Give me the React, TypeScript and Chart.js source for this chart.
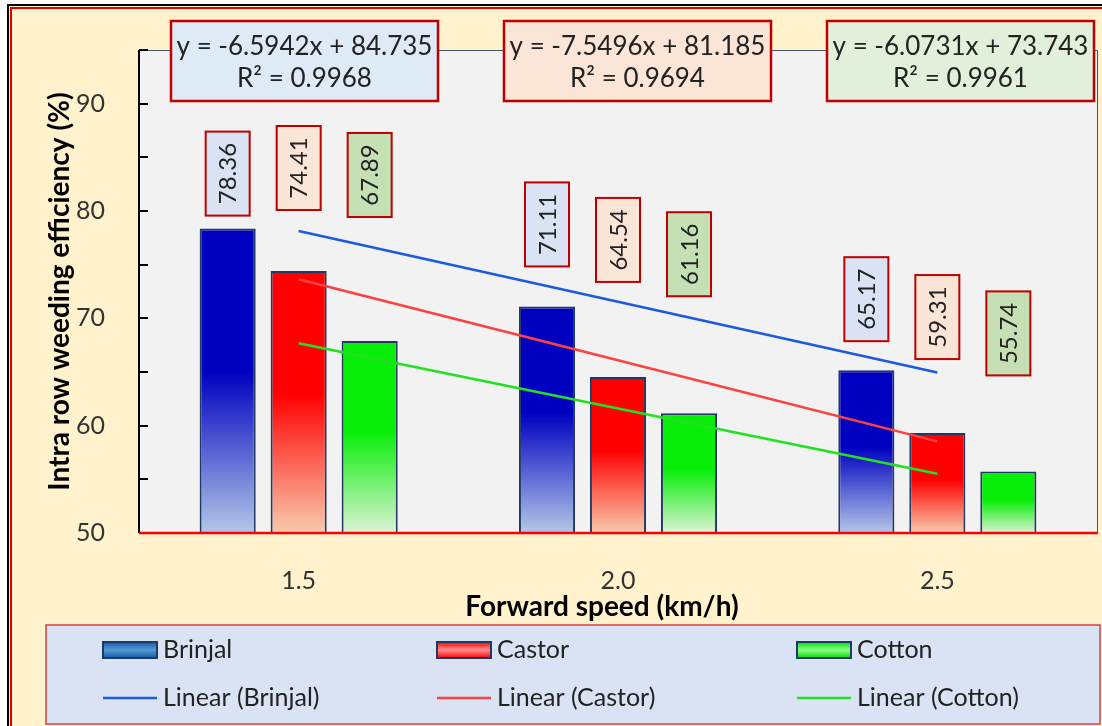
import { useEffect, useRef } from 'react';
import { Chart, registerables } from 'chart.js';

Chart.register(...registerables);

// ---- data ----
const speeds = ['1.5', '2.0', '2.5'];
const brinjal = [78.36, 71.11, 65.17];
const castor = [74.41, 64.54, 59.31];
const cotton = [67.89, 61.16, 55.74];
const brinjalTrend = [78.14, 71.55, 64.95];
const castorTrend = [73.64, 66.09, 58.54];
const cottonTrend = [67.67, 61.6, 55.52];
const equations = ['y = -6.5942x + 84.735', 'y = -7.5496x + 81.185', 'y = -6.0731x + 73.743'];
const rSquared = ['R² = 0.9968', 'R² = 0.9694', 'R² = 0.9961'];
const seriesNames = ['Brinjal', 'Castor', 'Cotton'];

// ---- styles / layout ----
const FONT = 'Lato, "Open Sans", "DejaVu Sans", sans-serif';
const TEXT = '#222222';
const BOX_RED = '#C00000';
const labelFills = ['#DAE3F3', '#FBE5D6', '#C5E0B4'];
const eqFills = ['#DEEBF7', '#FBE5D6', '#E2EFDA'];
const labelGaps = [
  [13, 40, 29],
  [61, 95, 74],
  [124, 117, 96],
];
const barGrad = [
  ['#0000C0', '#0000C0', '#B4C7E7'],
  ['#FF0000', '#FF0000', '#F8CBAD'],
  ['#08EE08', '#08EE08', '#DDF3D6'],
];
const trendColors = ['#1E5AE0', '#FF4040', '#22E022'];
const swatch = [
  ['#0F5AAE', '#5B9BD5'],
  ['#FF0000', '#FF9090'],
  ['#00DD00', '#8CFF8C'],
];

function gradFor(idx: number) {
  return (c: any) => {
    const chart = c.chart;
    const area = chart.chartArea;
    if (!area || c.raw == null) return barGrad[idx][0];
    const top = chart.scales.y.getPixelForValue(c.raw);
    const g = chart.ctx.createLinearGradient(0, top, 0, area.bottom);
    g.addColorStop(0, barGrad[idx][0]);
    g.addColorStop(0.47, barGrad[idx][1]);
    g.addColorStop(1, barGrad[idx][2]);
    return g;
  };
}

const decorPlugin = {
  id: 'decor',
  beforeDraw(chart: any) {
    const { ctx, width, height, chartArea: a } = chart;
    ctx.save();
    ctx.fillStyle = '#FFFFFF';
    ctx.fillRect(0, 0, width, height);
    ctx.fillStyle = '#FFF2CC';
    ctx.fillRect(9, 6, width, height);
    ctx.lineWidth = 2;
    ctx.strokeStyle = '#000000';
    ctx.beginPath();
    ctx.moveTo(8, height + 2);
    ctx.lineTo(8, 5);
    ctx.lineTo(width + 2, 5);
    ctx.stroke();
    ctx.strokeStyle = '#E00000';
    ctx.beginPath();
    ctx.moveTo(11, height + 2);
    ctx.lineTo(11, 8);
    ctx.lineTo(width + 2, 8);
    ctx.stroke();
    // plot area
    ctx.fillStyle = '#F2F2F2';
    ctx.fillRect(a.left, a.top, a.right - a.left, a.bottom - a.top);
    ctx.restore();
  },
  afterDraw(chart: any) {
    const { ctx, chartArea: a } = chart;
    const y = chart.scales.y;
    ctx.save();
    // plot border top/right
    ctx.strokeStyle = '#44546A';
    ctx.lineWidth = 1;
    ctx.beginPath();
    ctx.moveTo(a.left, a.top + 0.5);
    ctx.lineTo(a.right + 0.5, a.top + 0.5);
    ctx.lineTo(a.right + 0.5, a.bottom);
    ctx.stroke();
    // y axis
    ctx.strokeStyle = '#000000';
    ctx.lineWidth = 2;
    ctx.beginPath();
    ctx.moveTo(a.left, a.top);
    ctx.lineTo(a.left, a.bottom);
    for (let v = 50; v <= 95; v += 5) {
      const py = Math.round(y.getPixelForValue(v));
      ctx.moveTo(a.left, py);
      ctx.lineTo(a.left + 9, py);
    }
    ctx.stroke();
    // x axis
    ctx.strokeStyle = '#FF0000';
    ctx.lineWidth = 2.5;
    ctx.beginPath();
    ctx.moveTo(a.left, a.bottom);
    ctx.lineTo(a.right + 1, a.bottom);
    ctx.stroke();

    // data labels
    for (let i = 0; i < 3; i++) {
      const meta = chart.getDatasetMeta(i);
      meta.data.forEach((el: any, j: number) => {
        const w = 44;
        const h = 84;
        const bottom = el.y - labelGaps[i][j];
        const x0 = el.x - w / 2;
        const y0 = bottom - h;
        ctx.fillStyle = labelFills[i];
        ctx.fillRect(x0, y0, w, h);
        ctx.strokeStyle = BOX_RED;
        ctx.lineWidth = 2;
        ctx.strokeRect(x0, y0, w, h);
        const vals = [brinjal, castor, cotton][i];
        ctx.save();
        ctx.translate(el.x + 1, bottom - h / 2);
        ctx.rotate(-Math.PI / 2);
        ctx.fillStyle = TEXT;
        ctx.font = `24px ${FONT}`;
        ctx.textAlign = 'center';
        ctx.textBaseline = 'middle';
        ctx.fillText(vals[j].toFixed(2), 0, 0);
        ctx.restore();
      });
    }

    // equation boxes
    const eqCenters = [304.5, 637.5, 960.5];
    for (let i = 0; i < 3; i++) {
      const w = 267;
      const h = 80;
      const x0 = eqCenters[i] - w / 2;
      const y0 = 21;
      ctx.fillStyle = eqFills[i];
      ctx.fillRect(x0, y0, w, h);
      ctx.strokeStyle = BOX_RED;
      ctx.lineWidth = 2.5;
      ctx.strokeRect(x0, y0, w, h);
      ctx.fillStyle = TEXT;
      ctx.font = `26px ${FONT}`;
      ctx.textAlign = 'center';
      ctx.textBaseline = 'middle';
      ctx.fillText(equations[i], eqCenters[i], 47);
      ctx.fillText(rSquared[i], eqCenters[i], 79);
    }

    // axis titles
    ctx.fillStyle = '#000000';
    ctx.font = `bold 28px ${FONT}`;
    ctx.textAlign = 'center';
    ctx.textBaseline = 'middle';
    ctx.fillText('Forward speed (km/h)', 602, 607);
    ctx.save();
    ctx.translate(60, (a.top + a.bottom) / 2);
    ctx.rotate(-Math.PI / 2);
    ctx.fillText('Intra row weeding efficiency (%)', 0, 0);
    ctx.restore();

    // legend
    const lx = 46;
    const ly = 625;
    ctx.fillStyle = '#DAE3F3';
    ctx.fillRect(lx, ly, 1100 - lx, 724 - ly);
    ctx.strokeStyle = '#D94040';
    ctx.lineWidth = 1.5;
    ctx.strokeRect(lx, ly, 1100 - lx, 724 - ly);
    const cols = [103, 437, 797];
    const rows = [650, 698];
    ctx.font = `25px ${FONT}`;
    ctx.textAlign = 'left';
    ctx.textBaseline = 'middle';
    for (let i = 0; i < 3; i++) {
      const sx = cols[i];
      // bar swatch
      const g = ctx.createLinearGradient(0, rows[0] - 8, 0, rows[0] + 8);
      g.addColorStop(0, swatch[i][0]);
      g.addColorStop(0.5, swatch[i][1]);
      g.addColorStop(1, swatch[i][0]);
      ctx.fillStyle = g;
      ctx.fillRect(sx, rows[0] - 8, 54, 16);
      ctx.strokeStyle = '#1F3864';
      ctx.lineWidth = 2;
      ctx.strokeRect(sx, rows[0] - 8, 54, 16);
      ctx.fillStyle = TEXT;
      ctx.fillText(seriesNames[i], sx + 60, rows[0]);
      // line swatch
      ctx.strokeStyle = trendColors[i];
      ctx.lineWidth = 2.5;
      ctx.beginPath();
      ctx.moveTo(sx, rows[1]);
      ctx.lineTo(sx + 54, rows[1]);
      ctx.stroke();
      ctx.fillStyle = TEXT;
      ctx.fillText(`Linear (${seriesNames[i]})`, sx + 60, rows[1]);
    }
    ctx.restore();
  },
};

export default function App() {
  const ref = useRef<HTMLCanvasElement | null>(null);
  useEffect(() => {
    if (!ref.current) return;
    const barCommon = {
      type: 'bar' as const,
      borderColor: '#1F3864',
      borderWidth: 2,
      categoryPercentage: 0.667,
      barPercentage: 0.79,
      order: 1,
    };
    const lineCommon = {
      type: 'line' as const,
      borderWidth: 2.5,
      pointRadius: 0,
      fill: false,
      tension: 0,
      order: 0,
    };
    const chart = new Chart(ref.current, {
      type: 'bar',
      data: {
        labels: speeds,
        datasets: [
          { ...barCommon, label: 'Brinjal', data: brinjal, backgroundColor: gradFor(0) },
          { ...barCommon, label: 'Castor', data: castor, backgroundColor: gradFor(1) },
          { ...barCommon, label: 'Cotton', data: cotton, backgroundColor: gradFor(2) },
          { ...lineCommon, label: 'Linear (Brinjal)', data: brinjalTrend, borderColor: trendColors[0] },
          { ...lineCommon, label: 'Linear (Castor)', data: castorTrend, borderColor: trendColors[1] },
          { ...lineCommon, label: 'Linear (Cotton)', data: cottonTrend, borderColor: trendColors[2] },
        ] as any,
      },
      options: {
        responsive: false,
        animation: false,
        events: [],
        layout: { padding: { left: 0, top: 50, right: 5, bottom: 0 } },
        plugins: {
          legend: { display: false },
          tooltip: { enabled: false },
        },
        scales: {
          x: {
            grid: { display: false },
            border: { display: false },
            ticks: { font: { family: FONT, size: 25 }, color: '#333333', padding: 25 },
            afterFit: (s: any) => {
              s.height = 193;
            },
          },
          y: {
            min: 50,
            max: 95,
            grid: { display: false },
            border: { display: false },
            ticks: {
              stepSize: 5,
              font: { family: FONT, size: 25 },
              color: '#333333',
              padding: 26,
              callback: (v: any) => (Number(v) % 10 === 0 ? String(v) : ''),
            },
            afterFit: (s: any) => {
              s.width = 139;
            },
          },
        },
      },
      plugins: [decorPlugin],
    });
    return () => chart.destroy();
  }, []);
  return (
    <div style={{ position: 'fixed', left: 0, top: 0, width: 1102, height: 726 }}>
      <canvas ref={ref} width={1102} height={726} style={{ display: 'block' }} />
    </div>
  );
}
